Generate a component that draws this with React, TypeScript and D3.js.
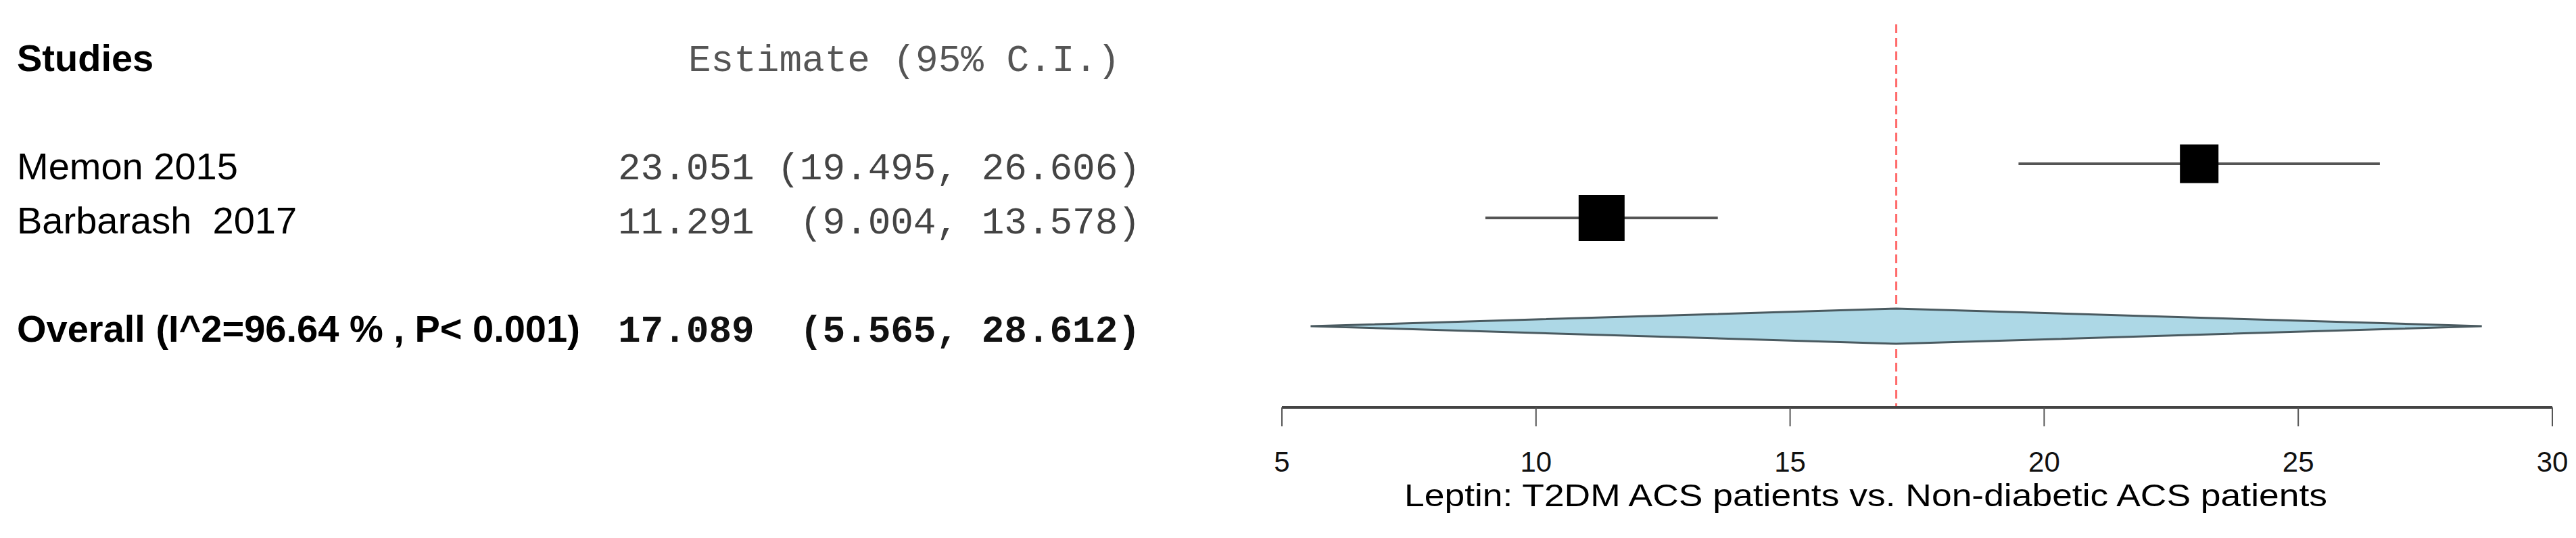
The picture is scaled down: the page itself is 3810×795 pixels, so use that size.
import React from 'react';
import * as d3 from 'd3';

// study level data
const studies = ['Memon 2015', 'Barbarash  2017'];
const estimates = [23.051, 11.291];
const lower = [19.495, 9.004];
const upper = [26.606, 13.578];
const weights = [41.3, 58.7];

const overallEst = 17.089;
const overallLo = 5.565;
const overallHi = 28.612;
const i2 = '96.64';
const pLabel = 'P< 0.001';

const xTicks = [5, 10, 15, 20, 25, 30];
const xTitle = 'Leptin: T2DM ACS patients vs. Non-diabetic ACS patients';

const W = 3810;
const H = 795;

const fmt = (v: number) => v.toFixed(3);
// R pads in front of the bracket, e.g. "11.291  (9.004, 13.578)"
const ciText = (e: number, lo: number, hi: number) =>
    `${fmt(e)} ${('(' + fmt(lo)).padStart(7)}, ${fmt(hi).padStart(6)})`;

const App = () => {
    const x = d3.scaleLinear().domain([5, 30]).range([1896, 3775]);
    // row index -> y (header -2, studies 0..n-1, overall n+1)
    const row = d3.scaleLinear().domain([0, 1]).range([242, 322]);
    const box = d3.scaleSqrt().domain([0, 58.7]).range([0, 68]);

    const overallRow = studies.length + 1;
    const axisY = row(studies.length + 2.5);
    const diamondH = 26;
    const yo = row(overallRow);
    const diamond = [
        [x(overallLo), yo],
        [x(overallEst), yo - diamondH],
        [x(overallHi), yo],
        [x(overallEst), yo + diamondH],
    ];

    const sans = '"Liberation Sans", Arial, sans-serif';
    const mono = '"Liberation Mono", "Courier New", monospace';
    const textOff = 23;

    return (
        <svg width={W} height={H} style={{ position: 'absolute', left: 0, top: 0, background: '#fff' }}>
            {/* header */}
            <text x={25} y={row(-2) + textOff} fontFamily={sans} fontWeight="bold" fontSize={56} fill="#000">Studies</text>
            <text x={1018} y={row(-2) + textOff} fontFamily={mono} fontSize={56} fill="#555" style={{ whiteSpace: 'pre' }}>Estimate (95% C.I.)</text>

            {/* study rows text */}
            {studies.map((s, i) => (
                <g key={s}>
                    <text x={25} y={row(i) + textOff} fontFamily={sans} fontSize={56} fill="#000" style={{ whiteSpace: 'pre' }}>{s}</text>
                    <text x={914} y={row(i) + textOff} fontFamily={mono} fontSize={56} fill="#444" style={{ whiteSpace: 'pre' }}>
                        {ciText(estimates[i], lower[i], upper[i])}
                    </text>
                </g>
            ))}

            {/* overall text */}
            <text x={25} y={yo + textOff} fontFamily={sans} fontWeight="bold" fontSize={56} fill="#000" style={{ whiteSpace: 'pre' }}>
                {`Overall (I^2=${i2} % , ${pLabel})`}
            </text>
            <text x={914} y={yo + textOff} fontFamily={mono} fontWeight="bold" fontSize={56} fill="#111" style={{ whiteSpace: 'pre' }}>
                {ciText(overallEst, overallLo, overallHi)}
            </text>

            {/* reference line at the pooled estimate */}
            <line x1={x(overallEst)} x2={x(overallEst)} y1={36} y2={axisY} stroke="#ff6b6b" strokeWidth={3} strokeDasharray="13,7" />

            {/* study CIs and boxes */}
            {studies.map((s, i) => {
                const b = box(weights[i]);
                return (
                    <g key={'m' + s}>
                        <line x1={x(lower[i])} x2={x(upper[i])} y1={row(i)} y2={row(i)} stroke="#555" strokeWidth={4} />
                        <rect x={x(estimates[i]) - b / 2} y={row(i) - b / 2} width={b} height={b} fill="#000" />
                    </g>
                );
            })}

            {/* pooled diamond */}
            <polygon points={diamond.map(p => p.join(',')).join(' ')} fill="#add8e6" stroke="#4a5a60" strokeWidth={3} />

            {/* x axis */}
            <line x1={x(5)} x2={x(30)} y1={axisY} y2={axisY} stroke="#444" strokeWidth={4} />
            {xTicks.map(t => (
                <g key={t}>
                    <line x1={x(t)} x2={x(t)} y1={axisY} y2={axisY + 28} stroke="#555" strokeWidth={2} />
                    <text x={x(t)} y={697} textAnchor="middle" fontFamily={sans} fontSize={42} fill="#111">{t}</text>
                </g>
            ))}
            <text x={2077} y={748} fontFamily={sans} fontSize={47} textLength={1365} lengthAdjust="spacingAndGlyphs" fill="#000">{xTitle}</text>
        </svg>
    );
};

export default App;
